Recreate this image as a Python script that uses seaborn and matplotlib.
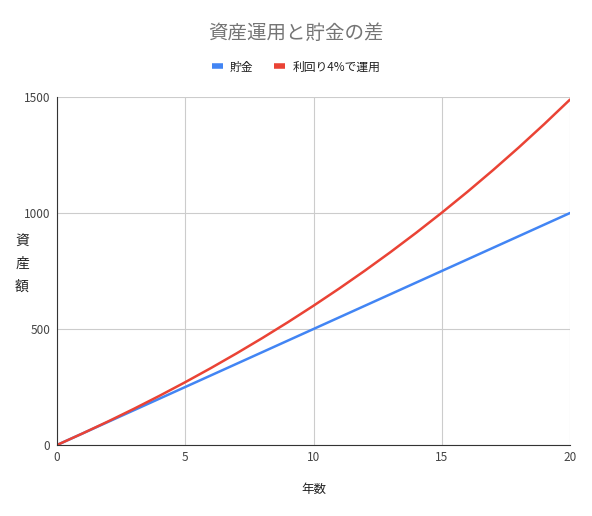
import pandas as pd
import matplotlib
matplotlib.use('Agg')
import matplotlib.pyplot as plt
import seaborn as sns

# data
years = list(range(0, 21))
savings = [0, 50, 100, 150, 200, 250, 300, 350, 400, 450, 500,
           550, 600, 650, 700, 750, 800, 850, 900, 950, 1000]
invest = [0, 50, 102, 156.1, 212.3, 270.8, 331.6, 394.9, 460.7, 529.1, 600.3,
          674.3, 751.3, 831.3, 914.6, 1001.2, 1091.2, 1184.9, 1282.3, 1383.6, 1488.9]
series_names = ['貯金', '利回り4%で運用']

df = pd.DataFrame({'年数': years, series_names[0]: savings, series_names[1]: invest})
df = df.melt(id_vars='年数', var_name='系列', value_name='資産額')

sns.set_style('white')
plt.rcParams['font.family'] = ['Noto Sans CJK JP', 'DejaVu Sans']

fig = plt.figure(figsize=(5.92, 5.16), dpi=100)
ax = fig.add_axes([57 / 592, 71 / 516, 513 / 592, 348 / 516])

sns.lineplot(data=df, x='年数', y='資産額', hue='系列',
             palette=['#4285f4', '#ea4335'], linewidth=1.8, ax=ax, legend=False)

ax.set_xlim(0, 20)
ax.set_ylim(0, 1500)
ax.set_xticks([0, 5, 10, 15, 20])
ax.set_yticks([0, 500, 1000, 1500])
ax.grid(True, color='#cccccc', linewidth=0.8)
for s in ['top', 'right']:
    ax.spines[s].set_visible(False)
ax.spines['left'].set_color('#333333')
ax.spines['bottom'].set_color('#333333')
ax.tick_params(axis='both', length=0, labelsize=8.5, labelcolor='#444444')
ax.tick_params(axis='y', pad=5)
ax.tick_params(axis='x', pad=4)

ax.set_xlabel('年数', fontsize=9, color='#222222', labelpad=14)
ax.set_ylabel('')
fig.text(22 / 592, 1 - 264 / 516, '資\n産\n額', ha='center', va='center',
         fontsize=10, color='#222222', linespacing=1.75)

fig.text(0.5, 1 - 33 / 516, '資産運用と貯金の差', ha='center', va='center',
         fontsize=14, color='#757575')

# legend
handles = [plt.Line2D([], [], color=c, linewidth=4, solid_capstyle='butt')
           for c in ['#4285f4', '#ea4335']]
fig.legend(handles, series_names, loc='center', bbox_to_anchor=(0.5, 1 - 67 / 516),
           ncol=2, frameon=False, fontsize=8.5, handlelength=0.9, handletextpad=0.6,
           columnspacing=1.8, labelcolor='#222222')

fig.savefig('out.png', dpi=100)
